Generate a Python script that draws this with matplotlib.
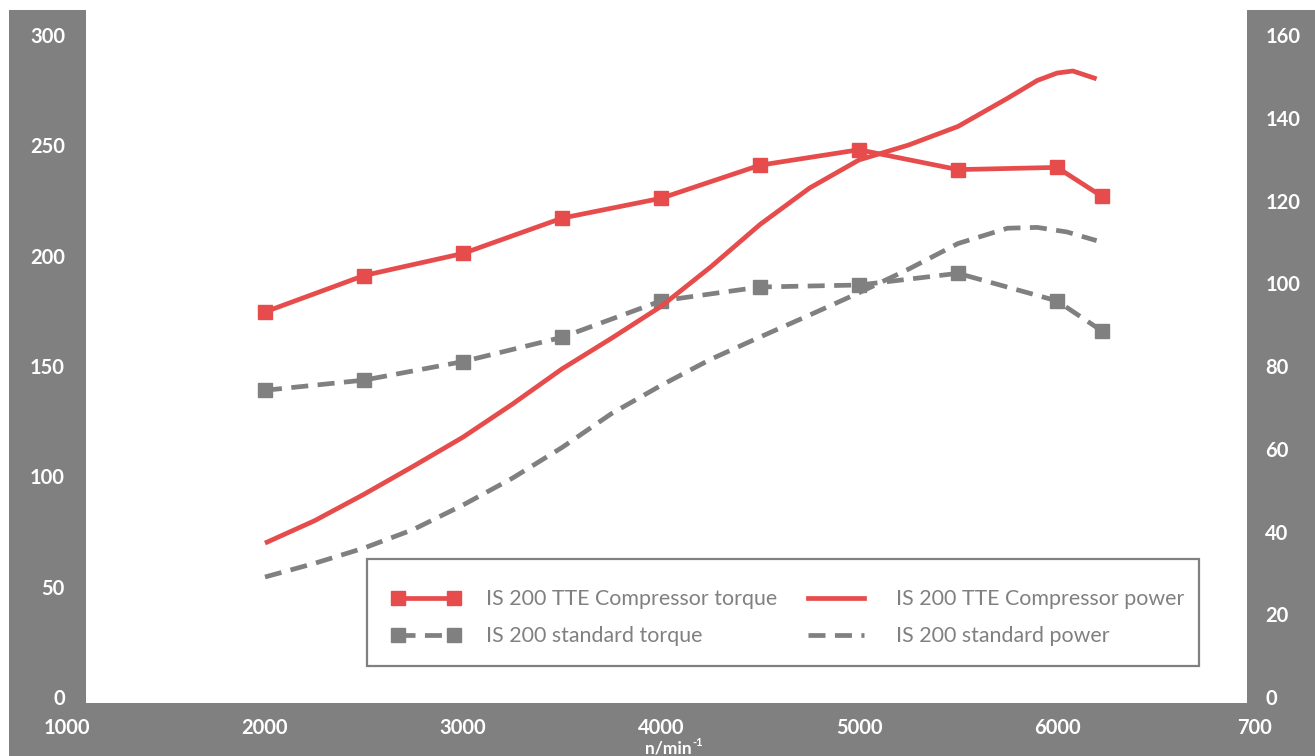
import matplotlib
matplotlib.use("Agg")
import matplotlib.pyplot as plt
from matplotlib.patches import Rectangle
from matplotlib.lines import Line2D

plt.rcParams['font.family'] = ['Lato', 'DejaVu Sans']

# torque curves (Nm, left axis) - values at the marker points
rpm_torque = [2000, 2500, 3000, 3500, 4000, 4500, 5000, 5500, 6000, 6225]
tte_torque = [174.5, 191, 201, 217, 226, 241, 248, 239, 240, 227]
std_torque = [139, 143.6, 152, 163, 179.5, 185.8, 186.7, 192, 179.5, 166]

# power curves (kW, right axis)
rpm_tte_power = [2000, 2250, 2500, 2750, 3000, 3250, 3500, 3750, 4000, 4250,
                 4500, 4750, 5000, 5250, 5500, 5750, 5900, 6000, 6080, 6200]
tte_power = [37.2, 42.6, 49, 55.8, 62.8, 70.8, 79.3, 86.7, 94.4, 103.9,
             114.2, 123, 129.8, 133.4, 137.9, 144.7, 149, 150.8, 151.3, 149.4]
rpm_std_power = [2000, 2250, 2500, 2750, 3000, 3250, 3500, 3750, 4000, 4250,
                 4500, 4750, 5000, 5250, 5500, 5750, 5900, 6050, 6200]
std_power = [29, 32.3, 36, 40.5, 46.4, 52.9, 60.3, 68.5, 75.3, 81.6,
             87, 92.3, 97.7, 103.4, 109.6, 113.3, 113.5, 112.4, 110.3]

x_ticks = [1000, 2000, 3000, 4000, 5000, 6000, 7000]
x_ticklabels = ["1000", "2000", "3000", "4000", "5000", "6000", "700"]
left_ticks = [0, 50, 100, 150, 200, 250, 300]
right_ticks = [0, 20, 40, 60, 80, 100, 120, 140, 160]

labels = ["IS 200 TTE Compressor torque", "IS 200 TTE Compressor power",
          "IS 200 standard torque", "IS 200 standard power"]

RED = "#e64c4c"
GREY = "#808080"
W, H = 1315, 756

fig = plt.figure(figsize=(W / 100, H / 100), dpi=100)
fig.patch.set_facecolor("white")


def px_rect(x0, y0, x1, y1, **kw):
    # rectangle given in pixel coords (origin top-left)
    return Rectangle((x0 / W, 1 - y1 / H), (x1 - x0) / W, (y1 - y0) / H,
                     transform=fig.transFigure, **kw)


# grey frame bands
fig.add_artist(px_rect(9, 10, 86, 756, facecolor=GREY, edgecolor="none", zorder=0))
fig.add_artist(px_rect(1247, 10, 1315, 756, facecolor=GREY, edgecolor="none", zorder=0))
fig.add_artist(px_rect(9, 703, 1315, 756, facecolor=GREY, edgecolor="none", zorder=0))

ax = fig.add_axes([67 / W, 1 - 697 / H, (1255 - 67) / W, (697 - 35) / H])
ax.patch.set_alpha(0)
ax2 = ax.twinx()
ax2.patch.set_alpha(0)

ax.set_xlim(1000, 7000)
ax.set_ylim(0, 300)
ax2.set_ylim(0, 160)

dash = (3.6, 2.0)
lw = 3.4

ax2.plot(rpm_std_power, std_power, color=GREY, lw=lw, dashes=dash, zorder=2)
ax.plot(rpm_torque, std_torque, color=GREY, lw=lw, dashes=dash,
        marker="s", ms=10, zorder=3)
ax2.plot(rpm_tte_power, tte_power, color=RED, lw=lw, zorder=4,
         solid_capstyle="butt")
ax.plot(rpm_torque, tte_torque, color=RED, lw=lw, marker="s", ms=10, zorder=5)

for a in (ax, ax2):
    for s in a.spines.values():
        s.set_visible(False)

ax.set_xticks(x_ticks)
ax.set_xticklabels(x_ticklabels)
ax.set_yticks(left_ticks)
ax2.set_yticks(right_ticks)
ax.tick_params(axis="x", length=0, pad=15, labelcolor="white", labelsize=14.5)
ax.tick_params(axis="y", length=0, pad=1.5, labelcolor="white", labelsize=14.5)
ax2.tick_params(axis="y", length=0, pad=7.5, labelcolor="white", labelsize=14.5)
for lab in ax.get_xticklabels() + ax.get_yticklabels() + ax2.get_yticklabels():
    lab.set_fontweight("bold")

# unit label under the x axis
fig.text(692 / W, 1 - 749 / H, "n/min", color="white", fontsize=12.5,
         fontweight="bold", ha="right", va="center")
fig.text(692.5 / W, 1 - 743 / H, "-1", color="white", fontsize=8,
         fontweight="bold", ha="left", va="center")

# legend box
fig.add_artist(px_rect(367, 559, 1199, 666, facecolor="white", edgecolor=GREY,
                       linewidth=1.6, zorder=6))

handles = [
    Line2D([], [], color=RED, lw=lw, marker="s", ms=10),
    Line2D([], [], color=RED, lw=lw),
    Line2D([], [], color=GREY, lw=lw, dashes=dash, marker="s", ms=10),
    Line2D([], [], color=GREY, lw=lw, dashes=dash),
]
order = [0, 2, 1, 3]
leg = fig.legend([handles[i] for i in order], [labels[i] for i in order],
                 ncol=2, frameon=False, loc="upper left",
                 bbox_to_anchor=(392 / W, 1 - 589 / H),
                 bbox_transform=fig.transFigure, borderpad=0, borderaxespad=0,
                 numpoints=2, handlelength=3.2, handletextpad=1.2,
                 columnspacing=1.15, labelspacing=0.8, fontsize=15.4)
leg.set_zorder(7)
for t in leg.get_texts():
    t.set_color(GREY)

fig.savefig("out.png", dpi=100)
